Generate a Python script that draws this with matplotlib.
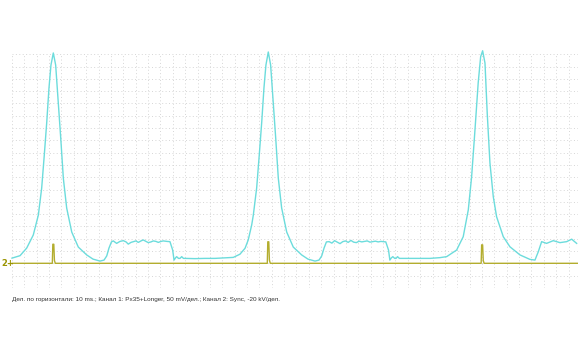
import numpy as np
import matplotlib
matplotlib.use("Agg")
import matplotlib.pyplot as plt

# Channel 1 (Px35+Longer), time in ms, value in mV
ch1_t = [0, 6.5, 11.9, 17.2, 21.3, 24.0, 26.1, 28.1, 29.9, 31.5, 33.4,
         35.3, 37.4, 39.4, 41.5, 44.2, 48.3, 53.6, 60.4, 65.5, 71.1,
         74.4, 76.6, 78.4, 80.4, 81.9, 84.6, 87.3, 90.0, 92.2, 94.0, 96.2,
         98.1, 100.2, 102.1, 104.3, 106.1, 108.3, 110.2, 112.4, 114.2, 116.4,
         118.3, 120.5, 122.3, 125.3, 127.7, 129.9, 131.0, 132.2, 133.1, 134.6,
         135.8, 137.2, 138.6, 139.9, 147.9, 156.0, 164.1, 172.2, 178.9, 184.3,
         188.4, 191.0, 193.8,
         195.1, 197.8, 199.9, 201.9, 203.7, 205.3, 207.2,
         209.1, 211.2, 213.2, 215.3, 218.0, 222.1, 227.4, 234.2, 239.3, 245.0,
         248.2, 250.4, 252.3, 254.2, 256.4, 258.6, 260.8, 263.0, 265.2, 267.4,
         269.6, 271.8, 274.0, 276.2, 278.4, 280.6, 282.8, 285.0, 287.2, 289.4,
         291.6, 293.8, 296.0, 298.2, 300.4, 302.2, 304.4, 305.5, 306.7, 307.9,
         309.4, 310.5, 311.7, 313.2, 314.4, 322.0, 330.0, 337.9, 346.0, 351.4,
         359.5, 364.8, 368.9, 371.6, 374.3, 376.9, 378.9, 380.5,
         382.4, 384.2, 386.4, 389.1, 391.8, 397.2, 402.6, 410.7, 418.7, 422.8,
         425.5, 428.2, 432.2, 437.6, 443.0, 448.4, 452.5, 456.5]
ch1_mv = [21, 31, 62, 115, 196, 306, 440, 574, 713, 806, 855,
          806, 656, 509, 346, 225, 127, 66, 34, 17, 9,
          13, 30, 62, 87, 91, 81, 89, 92, 87, 78, 85,
          88, 91, 85, 91, 95, 89, 84, 87, 91, 89,
          85, 89, 91, 89, 88, 54, 13, 22, 27, 20,
          20, 27, 20, 20, 19, 20, 20, 22, 24, 37,
          61, 95, 156,
          196, 306, 440, 574, 713, 806, 859,
          806, 656, 509, 346, 225, 127, 66, 34, 17, 9,
          13, 30, 62, 87, 88, 82, 92, 86, 80, 88,
          91, 85, 93, 86, 84, 90, 87, 89, 91, 86,
          88, 90, 87, 89, 88, 87, 54, 13, 22, 27,
          20, 20, 27, 20, 20, 20, 20, 20, 23, 27,
          54, 108, 217, 352, 542, 733, 840, 864,
          814, 611, 408, 271, 189, 108, 67, 34, 16, 13,
          47, 88, 81, 92, 84, 88, 98, 81]

# Channel 2 (Sync), spike times in ms and amplitudes in kV
sync_t = [33.4, 207.2, 380.1]
sync_kv = [-31, -35, -30]

t_end = 457.6        # ms shown on screen
ms_per_div = 10
mv_per_div = 50
kv_per_div = -20

cyan = "#6cdcdc"
olive = "#b3ad2e"

fig = plt.figure(figsize=(5.78, 3.5), dpi=100)
ax = fig.add_axes([12 / 578, 62.1 / 350, 566 / 578, 233.7 / 350])
ax.set_xlim(0, t_end)
ax.set_ylim(-2, 17)
ax.set_xticks(np.arange(0, t_end, ms_per_div))
ax.set_yticks(np.arange(-2, 18, 1))
ax.tick_params(length=0, labelbottom=False, labelleft=False)
for s in ax.spines.values():
    s.set_visible(False)
ax.grid(True, color="#d6d6d6", linestyle=(0, (1, 2.5)), linewidth=0.7)

# sync channel trace built from the spike list
st = [0]
sv = [0]
for t0, kv in zip(sync_t, sync_kv):
    d = kv / kv_per_div
    st += [t0 - 0.8, t0 - 0.4, t0 + 0.4, t0 + 0.9, t0 + 1.6]
    sv += [0, d, d, d * 0.15, 0]
st.append(t_end)
sv.append(0)
ax.plot(st, sv, color=olive, lw=1.0, clip_on=False, zorder=3)

ax.plot(ch1_t, np.array(ch1_mv) / mv_per_div, color=cyan, lw=1.0,
        clip_on=False, zorder=4)

fig.text(1.5 / 578, 1 - 263.3 / 350, "2+", color="#9a9400", fontsize=6,
         fontweight="bold", va="center", ha="left")

fig.text(12 / 578, 1 - 300 / 350,
         "Дел. по горизонтали: 10 ms.; Канал 1: Px35+Longer, 50 mV/дел.; "
         "Канал 2: Sync, -20 kV/дел.",
         fontsize=4.62, family="Liberation Sans", color="#333333",
         va="center", ha="left")

fig.savefig("out.png", dpi=100)
